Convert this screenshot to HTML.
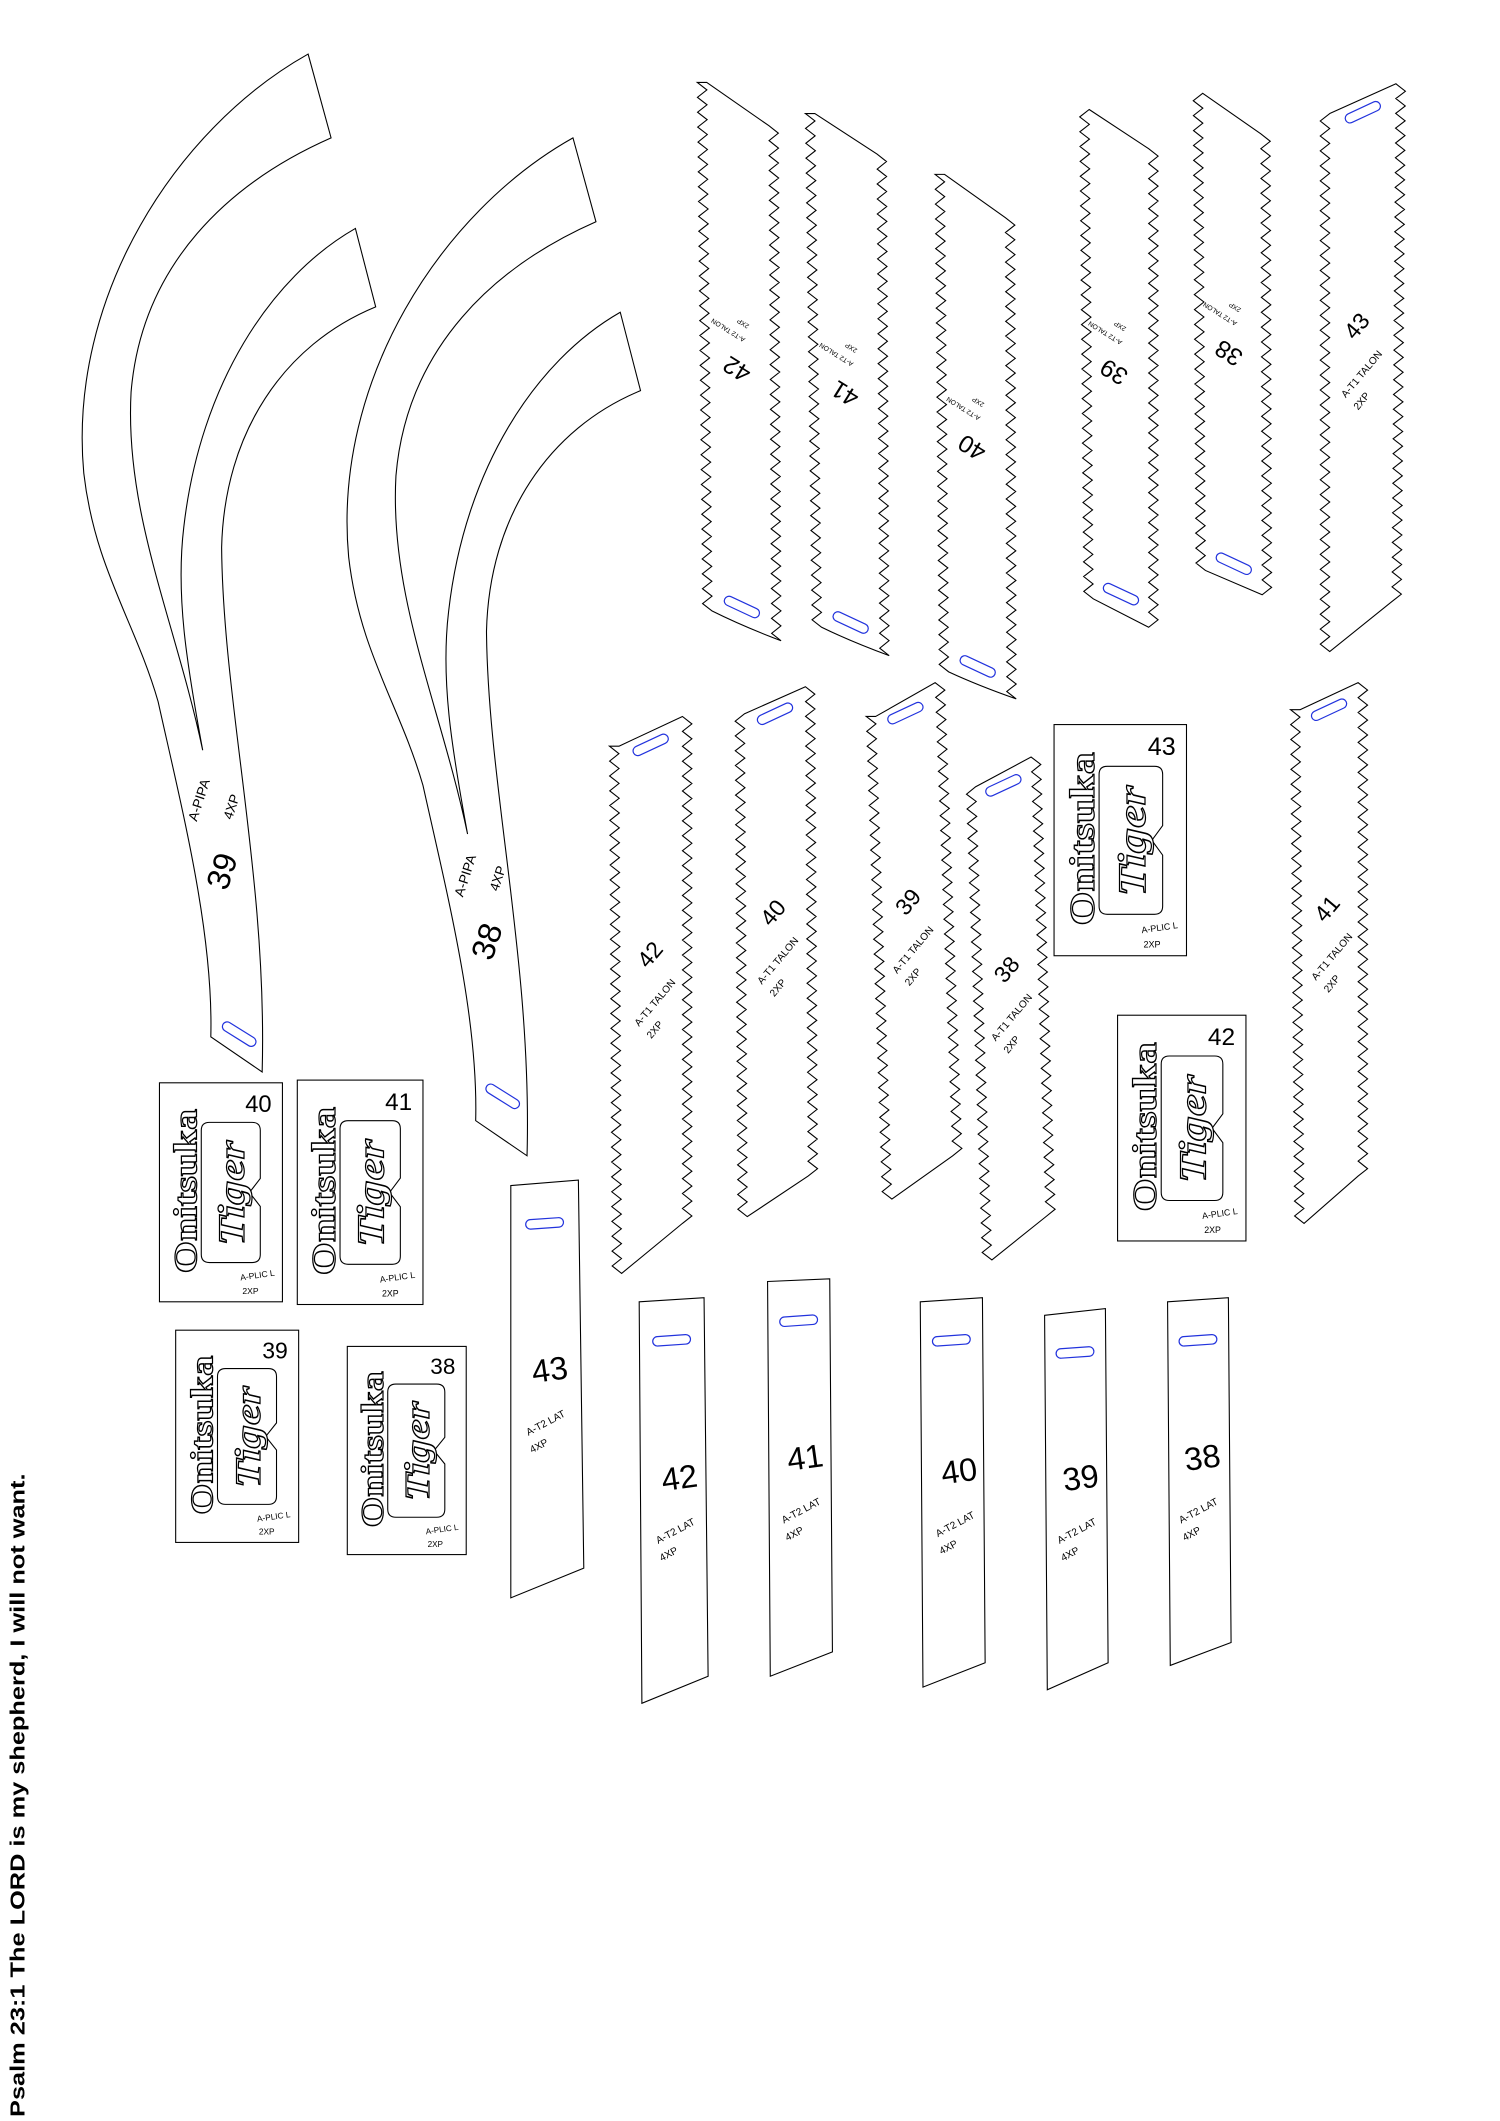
<!DOCTYPE html>
<html><head><meta charset="utf-8">
<style>
html,body{margin:0;padding:0;background:#fff;}
svg{display:block;}
text{font-family:"Liberation Sans",sans-serif;}
</style></head>
<body>
<svg id="s" xmlns="http://www.w3.org/2000/svg" width="1500" height="2121" viewBox="0 0 1110 1569" preserveAspectRatio="none">
<rect width="1110" height="1569" fill="#fff"/>
<g fill="#fff" stroke="#000" stroke-width="0.8">
<path id="pipa" d="M228,40 L245,102 C170,135 105,195 97,290 C92,380 130,460 150,555 C138,490 130,440 136,390 C148,285 200,205 263,169 L278,227 C210,255 166,320 164,405 C165,520 198,650 194,793 L156,767 C158,690 135,600 117,519 C100,460 70,420 62,350 C50,220 130,95 228,40 Z"/>
<path d="M228,40 L245,102 C170,135 105,195 97,290 C92,380 130,460 150,555 C138,490 130,440 136,390 C148,285 200,205 263,169 L278,227 C210,255 166,320 164,405 C165,520 198,650 194,793 L156,767 C158,690 135,600 117,519 C100,460 70,420 62,350 C50,220 130,95 228,40 Z" transform="translate(196,62)"/>
</g>
<g id="dyn"></g>
<text transform="translate(18,1566) rotate(-90)" font-size="15" font-weight="bold" textLength="476" lengthAdjust="spacingAndGlyphs">Psalm 23:1 The LORD is my shepherd, I will not want.</text>
</svg>
<script>
const NS="http://www.w3.org/2000/svg";
const g=document.getElementById('dyn');
let out='';
function slot(cx,cy,ang){out+=`<rect x="${cx-14}" y="${cy-3.5}" width="28" height="7" rx="3.5" fill="none" stroke="#2233dd" stroke-width="0.9" transform="rotate(${ang} ${cx} ${cy})"/>`;}
function txt(x,y,s,sz,ang,extra){out+=`<text x="0" y="0" font-size="${sz}" text-anchor="middle" dominant-baseline="middle" transform="translate(${x},${y}) rotate(${ang})" ${extra||''}>${s}</text>`;}
function zig(ax,ay,bx,by,off){ // zigzag from a to b, offset outward
  const L=Math.hypot(bx-ax,by-ay);const n=Math.round(L/5.5);let p='';
  for(let i=1;i<=n;i++){const t=i/n;const o=(i%2)?off:0;p+=` L${(ax+(bx-ax)*t+o).toFixed(1)},${(ay+(by-ay)*t).toFixed(1)}`;}
  return p;}
function strip(tl,tr,bl,br,curveDown){
  let d=`M${tl[0]},${tl[1]} L${tr[0]},${tr[1]}`;
  d+=zig(tr[0],tr[1],br[0],br[1],7);
  const mx=(bl[0]+br[0])/2, my=(bl[1]+br[1])/2+(curveDown?-4:0);
  d+=` Q${mx},${my} ${bl[0]},${bl[1]}`;
  d+=zig(bl[0],bl[1],tl[0],tl[1],-7);
  d+=' Z';
  out+=`<path d="${d}" fill="#fff" stroke="#000" stroke-width="0.8"/>`;
}
// pipa labels
txt(166,645,'39',24,-72);txt(148,592,'A-PIPA',10,-72);txt(172,597,'4XP',10,-72);slot(177,765,32);
txt(362,697,'38',24,-72);txt(345,648,'A-PIPA',10,-72);txt(369,650,'4XP',10,-72);slot(372,811,32);
// T2 talon upside down
const T2=[[[523,61],[569,93],[527,452],[571,474],'42',546,272],
[[603,84],[649,114],[608,464],[651,485],'41',626,290],
[[699,129],[744,161],[702,497],[745,517],'40',720,330],
[[806,81],[850,110],[809,443],[850,464],'39',825,274],
[[890,69],[933,99],[892,422],[934,440],'38',910,260]];
T2.forEach(s=>{strip(s[0],s[1],s[2],s[3],false);const cx=(s[2][0]+s[3][0])/2,cy=(s[2][1]+s[3][1])/2-14;slot(cx,cy,25);
txt(s[5],s[6],s[4],18,212);txt(s[5]-7,s[6]-28,'A-T2 TALON',5,212);txt(s[5]+4,s[6]-33,'2XP',5,212);});
// T1 talon upright
const T1=[[[984,84],[1033,62],[984,482],[1030,445],'43',1005,242],
[[458,552],[505,530],[460,942],[505,905],'42',482,707],
[[551,528],[596,508],[553,900],[598,870],'40',573,676],
[[648,530],[692,505],[660,887],[705,855],'39',673,668],
[[722,582],[763,560],[734,932],[774,900],'38',746,718],
[[962,525],[1005,505],[965,905],[1005,870],'41',983,673]];
T1.forEach(s=>{strip(s[0],s[1],s[2],s[3],false);const cx=(s[0][0]+s[1][0])/2,cy=(s[0][1]+s[1][1])/2+10;slot(cx,cy,-25);
txt(s[5],s[6],s[4],17,-50);txt(s[5]+3,s[6]+35,'A-T1 TALON',7.5,-50);txt(s[5]+3,s[6]+55,'2XP',7.5,-50);});
// T2 LAT
const LAT=[[378,877,428,873,378,1182,432,1160,'43',407,1015],
[473,963,521,960,475,1260,524,1240,'42',503,1095],
[568,948,614,946,570,1240,616,1222,'41',596,1080],
[681,963,727,960,683,1248,729,1230,'40',710,1090],
[773,973,818,968,775,1250,820,1230,'39',800,1095],
[864,963,909,960,866,1232,911,1215,'38',890,1080]];
LAT.forEach(s=>{out+=`<path d="M${s[0]},${s[1]} L${s[2]},${s[3]} L${s[6]},${s[7]} L${s[4]},${s[5]} Z" fill="#fff" stroke="#000" stroke-width="0.8"/>`;
const cx=(s[0]+s[2])/2,cy=(s[1]+s[3])/2+30;slot(cx,cy,-4);
txt(s[9],s[10],s[8],24,-8,'font-weight="normal"');txt(s[9]-3,s[10]+38,'A-T2 LAT',7.5,-28);txt(s[9]-8,s[10]+55,'4XP',7.5,-28);});
// Onitsuka boxes
const OB=[[780,536,98,171,'43'],[827,751,95,167,'42'],[118,801,91,162,'40'],[220,799,93,166,'41'],[130,984,91,157,'39'],[257,996,88,154,'38']];
OB.forEach(b=>{const [x,y,w,h,n]=b;const s=h/166;
out+=`<rect x="${x}" y="${y}" width="${w}" height="${h}" fill="#fff" stroke="#000" stroke-width="0.8"/>`;
out+=`<text x="${x+w-8}" y="${y+22*s}" font-size="${18*s}" text-anchor="end">${n}</text>`;
// frame
const fx=x+w*0.34,fy=y+30*s,fw=w*0.48,fh=h*0.64;
out+=`<path d="M${fx+6},${fy} L${fx+fw-6},${fy} Q${fx+fw},${fy} ${fx+fw},${fy+6} L${fx+fw},${fy+fh*0.4} L${fx+fw-8},${fy+fh*0.5} L${fx+fw},${fy+fh*0.6} L${fx+fw},${fy+fh-6} Q${fx+fw},${fy+fh} ${fx+fw-6},${fy+fh} L${fx+6},${fy+fh} Q${fx},${fy+fh} ${fx},${fy+fh-6} L${fx},${fy+6} Q${fx},${fy} ${fx+6},${fy} Z" fill="#fff" stroke="#000" stroke-width="0.8"/>`;
out+=`<text transform="translate(${x+w*0.3},${y+h*0.87}) rotate(-90)" font-size="${25*s}" font-weight="bold" fill="#fff" stroke="#000" stroke-width="0.9" textLength="${h*0.75}" lengthAdjust="spacingAndGlyphs" style="font-family:'Liberation Serif',serif">Onitsuka</text>`;
out+=`<text transform="translate(${fx+fw*0.72},${fy+fh*0.88}) rotate(-90)" font-size="${28*s}" font-style="italic" font-weight="bold" fill="#fff" stroke="#000" stroke-width="0.9" textLength="${fh*0.75}" lengthAdjust="spacingAndGlyphs" style="font-family:'Liberation Serif',serif">Tiger</text>`;
out+=`<text x="${x+w*0.8}" y="${y+h-18*s}" font-size="${6.5*s}" text-anchor="middle" transform="rotate(-8 ${x+w*0.8} ${y+h-18*s})">A-PLIC L</text>`;
out+=`<text x="${x+w*0.74}" y="${y+h-6*s}" font-size="${6.5*s}" text-anchor="middle">2XP</text>`;
});
g.innerHTML=out;
</script>
</body></html>
